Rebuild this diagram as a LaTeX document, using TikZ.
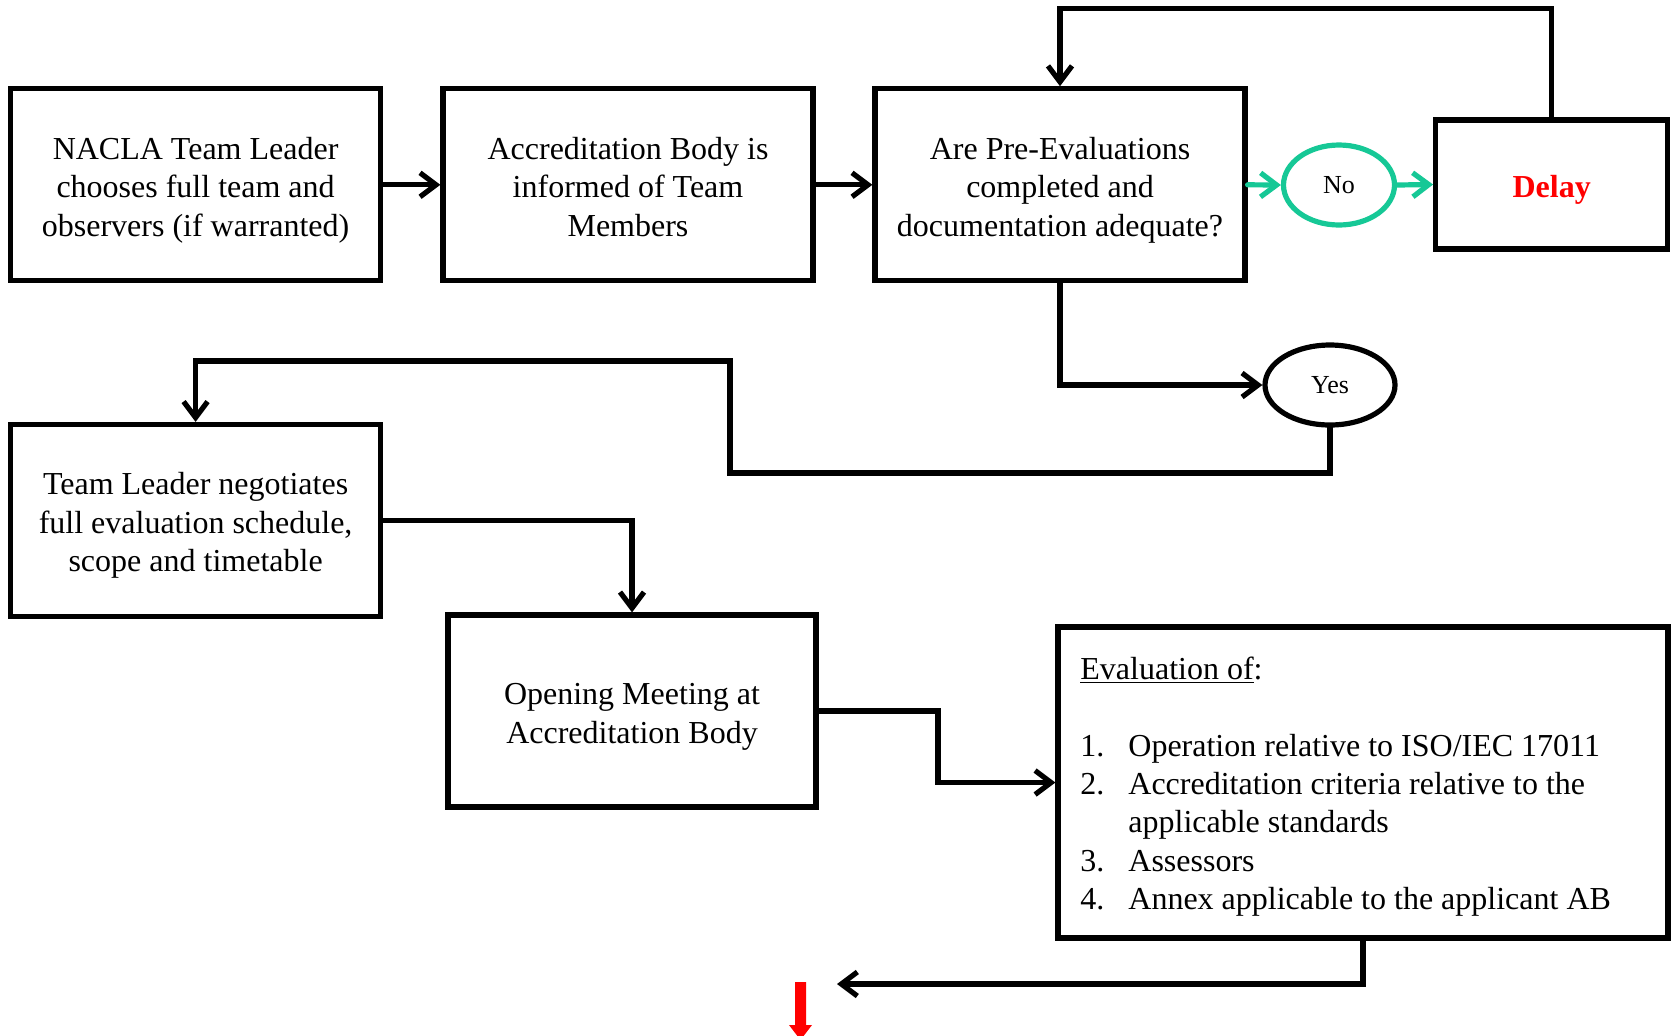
\documentclass[tikz,border=0pt]{standalone}
\usepackage{fontspec}
\setmainfont{Liberation Serif}
\usetikzlibrary{arrows.meta,shapes.geometric}
\definecolor{nogreen}{RGB}{22,200,150}
\definecolor{delayred}{RGB}{255,0,0}
\newcommand{\btext}[1]{\begin{tabular}{@{}c@{}}\rule{0pt}{18.6pt}#1\end{tabular}}
\tikzset{
  box/.style={draw, line width=2.6pt, minimum width=185pt, minimum height=96pt, inner sep=0pt,
    font=\fontsize{16}{19.2}\selectfont},
  oval/.style={draw, ellipse, line width=2.6pt, inner sep=0pt, font=\fontsize{13}{15}\selectfont},
  arr/.style={line width=2.6pt, -{Straight Barb[length=8pt,width=12pt]}, line cap=round},
}
\begin{document}
\begin{tikzpicture}[x=0.5pt,y=-0.5pt]
\useasboundingbox (0,0) rectangle (1671,1035);
\node[box] (b1) at (195.6,184.8) {\btext{NACLA Team Leader\\chooses full team and\\observers (if warranted)}};
\node[box] (b2) at (628,184.8) {\btext{Accreditation Body is\\informed of Team\\Members}};
\node[box] (b3) at (1060,184.8) {\btext{Are Pre-Evaluations\\completed and\\documentation adequate?}};
\node[box, minimum width=116pt, minimum height=64.5pt, font=\fontsize{16}{19.2}\selectfont\bfseries, text=delayred] (delay) at (1551.7,184.5) {\btext{Delay}};
\node[oval, draw=nogreen, minimum width=55.5pt, minimum height=40pt] (no) at (1339,185) {No};
\node[oval, minimum width=65pt, minimum height=40pt] (yes) at (1330,385) {Yes};
\node[box] (b4) at (195.6,520.5) {\btext{Team Leader negotiates\\full evaluation schedule,\\scope and timetable}};
\node[box, minimum width=184pt] (b5) at (632,711) {\btext{Opening Meeting at\\Accreditation Body}};
\node[draw, line width=2.6pt, minimum width=305pt, minimum height=155.5pt, inner sep=0pt] (eval) at (1363,782.5) {};
\node[anchor=north west, inner sep=0pt, font=\fontsize{16}{19.2}\selectfont] (evaltext) at (1080,652)
{\begin{tabular}{@{}p{24pt}@{}l@{}}
\multicolumn{2}{@{}l@{}}{\underline{Evaluation of}:}\\
\\
1. & Operation relative to ISO/IEC 17011\\
2. & Accreditation criteria relative to the\\
   & applicable standards\\
3. & Assessors\\
4. & Annex applicable to the applicant AB
\end{tabular}};
\coordinate (top) at (0,8.5);
\coordinate (c1) at (730,473);
\coordinate (c2) at (730,361);
\coordinate (c3) at (938,0);
\coordinate (c4) at (837,984);
\draw[arr] (b1.east) -- (b2.west);
\draw[arr] (b2.east) -- (b3.west);
\draw[arr, draw=nogreen] (b3.east) -- (no.west);
\draw[arr, draw=nogreen] (no.east) -- (delay.west);
\draw[arr] (delay.north) -- (delay.north |- top) -| (b3.north);
\draw[arr] (b3.south) |- (yes.west);
\draw[arr] (yes.south) |- (c1) -- (c2) -| (b4.north);
\draw[arr] (b4.east) -| (b5.north);
\draw[arr] (b5.east) -- (b5.east -| c3) |- (eval.west);
\draw[arr] (eval.south) |- (c4);
\fill[delayred] (795,982) -- (806,982) -- (806,1025) -- (812,1025) -- (800.5,1040) -- (789,1025) -- (795,1025) -- cycle;
\end{tikzpicture}
\end{document}
